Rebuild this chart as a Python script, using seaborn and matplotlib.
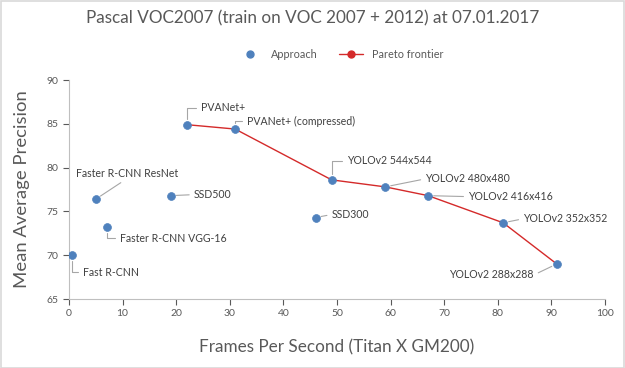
import matplotlib
matplotlib.use('Agg')
import matplotlib.pyplot as plt
import seaborn as sns
import pandas as pd
from matplotlib.lines import Line2D
from matplotlib.patches import Rectangle

# data
names = ['Fast R-CNN', 'Faster R-CNN VGG-16', 'Faster R-CNN ResNet', 'SSD500', 'SSD300',
         'PVANet+', 'PVANet+ (compressed)', 'YOLOv2 544x544', 'YOLOv2 480x480',
         'YOLOv2 416x416', 'YOLOv2 352x352', 'YOLOv2 288x288']
fps = [0.5, 7, 5, 19, 46, 22, 31, 49, 59, 67, 81, 91]
mAP = [70.0, 73.2, 76.4, 76.8, 74.3, 84.9, 84.4, 78.6, 77.8, 76.8, 73.7, 69.0]
pareto_names = ['PVANet+', 'PVANet+ (compressed)', 'YOLOv2 544x544', 'YOLOv2 480x480',
                'YOLOv2 416x416', 'YOLOv2 352x352', 'YOLOv2 288x288']

# label offsets in pixels (dx, dy, ha, elbow leader?)
offsets = {
    'Fast R-CNN': (11, -17, 'left', True),
    'Faster R-CNN VGG-16': (13, -11, 'left', True),
    'Faster R-CNN ResNet': (-20, 26, 'left', False),
    'SSD500': (23, 1, 'left', False),
    'SSD300': (16, 3, 'left', False),
    'PVANet+': (14, 17, 'left', True),
    'PVANet+ (compressed)': (12, 8, 'left', True),
    'YOLOv2 544x544': (15, 19, 'left', True),
    'YOLOv2 480x480': (40, 8, 'left', False),
    'YOLOv2 416x416': (40, -1, 'left', False),
    'YOLOv2 352x352': (20, 4, 'left', False),
    'YOLOv2 288x288': (-23, -11, 'right', False),
}

df = pd.DataFrame({'name': names, 'fps': fps, 'map': mAP})
pareto = df.set_index('name').loc[pareto_names].reset_index()

sns.set_style('white')
plt.rcParams['font.family'] = ['Lato', 'DejaVu Sans']

blue = '#4f81bd'
red = '#d42a2a'
grey_txt = '#595959'

fig = plt.figure(figsize=(6.25, 3.68), dpi=100)
ax = fig.add_axes([0.1104, 0.1875, 0.8576, 0.5951])

sns.lineplot(data=pareto, x='fps', y='map', sort=False, color=red, lw=1.0, ax=ax, zorder=2)
sns.scatterplot(data=df, x='fps', y='map', color=blue, s=32, edgecolor=blue, linewidth=0.5,
                ax=ax, zorder=3)

for _, r in df.iterrows():
    dx, dy, ha, elbow = offsets[r['name']]
    if r['name'] == 'Faster R-CNN ResNet':
        rel = (0.5, 0)
    elif ha == 'right':
        rel = (1, 0.5)
    else:
        rel = (0, 0.5)
    conn = 'angle,angleA=0,angleB=90,rad=0' if elbow else 'arc3'
    ax.annotate(r['name'], (r['fps'], r['map']), xytext=(dx, dy), textcoords='offset pixels',
                ha=ha, va='center', fontsize=7.6, color='#404040',
                arrowprops=dict(arrowstyle='-', color='#a6a6a6', lw=0.8,
                                shrinkA=1, shrinkB=4, relpos=rel, connectionstyle=conn))

ax.set_xlim(0, 100)
ax.set_ylim(65, 90)
ax.set_xticks(range(0, 101, 10))
ax.set_yticks(range(65, 91, 5))
ax.tick_params(axis='both', labelsize=7.5, colors=grey_txt, length=4, width=0.8,
               direction='out', bottom=True, left=True)
for s in ['top', 'right']:
    ax.spines[s].set_visible(False)
for s in ['left', 'bottom']:
    ax.spines[s].set_color('#bfbfbf')
    ax.spines[s].set_linewidth(0.8)

ax.set_xlabel('Frames Per Second (Titan X GM200)', fontsize=12.3, color=grey_txt, labelpad=15)
ax.set_ylabel('Mean Average Precision', fontsize=13.3, color=grey_txt, labelpad=12)

fig.text(0.5, 0.95, 'Pascal VOC2007 (train on VOC 2007 + 2012) at 07.01.2017',
         ha='center', va='center', fontsize=12.3, color=grey_txt)

handles = [Line2D([], [], marker='o', ls='none', color=blue, markersize=5),
           Line2D([], [], marker='o', ls='-', color=red, markersize=5, lw=1.0)]
fig.legend(handles, ['Approach', 'Pareto frontier'], loc='center', bbox_to_anchor=(0.545, 0.853),
           ncol=2, frameon=False, fontsize=7.8, labelcolor=grey_txt, handlelength=2.2,
           columnspacing=2.0)

fig.add_artist(Rectangle((0.001, 0.001), 0.997, 0.997, transform=fig.transFigure,
                         fill=False, edgecolor='#d9d9d9', lw=1.2))

fig.savefig('out.png', dpi=100)
